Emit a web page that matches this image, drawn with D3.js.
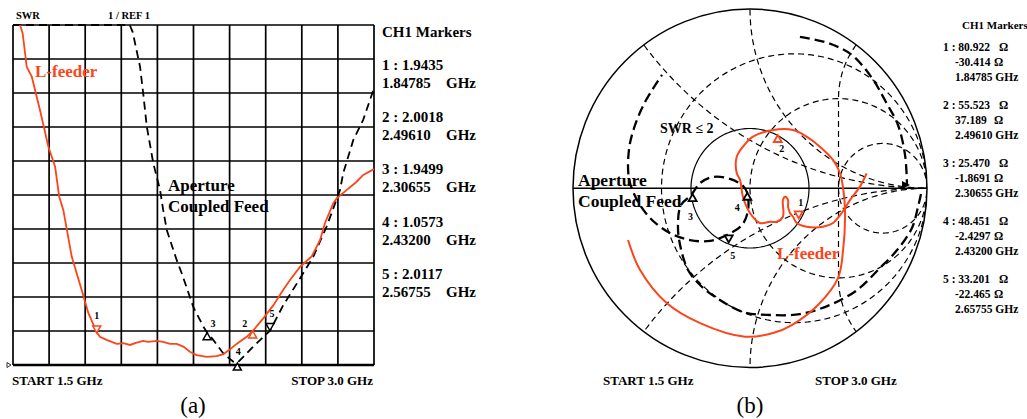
<!DOCTYPE html>
<html><head><meta charset="utf-8">
<script src="https://cdn.jsdelivr.net/npm/d3@7"></script>
<style>
body{margin:0;background:#fff}
svg{display:block}
text{font-family:"Liberation Serif","Times New Roman",serif;font-weight:bold}
text.caption{font-weight:normal}
</style></head><body>
<svg id="c" width="1027" height="419"></svg>
<script>
// ---------- (a) SWR vs frequency ----------
const freqGrid = [1.5,1.65,1.8,1.95,2.1,2.25,2.4,2.55,2.7,2.85,3.0];
const swrGrid = [1,2,3,4,5,6,7,8,9,10,11];

const lfeederFreq = [1.529,1.540,1.557,1.578,1.612,1.647,1.675,1.692,1.709,1.744,1.785,1.813,1.848,1.861,1.889,1.931,1.958,1.986,2.014,2.041,2.062,2.097,2.124,2.152,2.180,2.208,2.235,2.263,2.305,2.346,2.374,2.402,2.429,2.471,2.496,2.540,2.582,2.623,2.651,2.693,2.741,2.776,2.796,2.831,2.845,2.887,2.928,2.955,3.000];
const lfeederSWR  = [11.0,10.76,9.77,9.48,8.50,7.42,6.83,5.95,5.56,4.19,3.21,2.53,1.96,1.83,1.74,1.62,1.64,1.59,1.66,1.71,1.68,1.71,1.68,1.62,1.62,1.54,1.39,1.29,1.24,1.26,1.32,1.46,1.62,1.83,2.00,2.37,2.76,3.21,3.50,3.89,4.19,4.68,5.17,5.76,5.90,6.15,6.39,6.59,6.76];

const apertureFreq = [1.500,1.985,1.997,2.028,2.041,2.056,2.083,2.111,2.124,2.139,2.180,2.201,2.249,2.291,2.307,2.332,2.374,2.415,2.432,2.457,2.498,2.568,2.623,2.693,2.748,2.803,2.859,2.872,2.914,2.955,3.000];
const apertureSWR  = [11,11,10.80,9.77,8.99,8.01,6.93,6.15,5.56,4.97,4.09,3.70,2.71,2.13,1.95,1.74,1.34,1.10,1.06,1.24,1.54,2.01,2.76,3.55,4.19,5.07,6.15,6.64,7.62,8.21,9.14];

// CH1 markers of the SWR trace
const swrMarkerId    = [1,2,3,4,5];
const swrMarkerValue = [1.9435,2.0018,1.9499,1.0573,2.0117];
const swrMarkerFreq  = [1.84785,2.49610,2.30655,2.43200,2.56755];
const swrMarkerTrace = ["L","L","A","A","A"];
const swrMarkerShape = ["down","up","up","up","down"];

// ---------- (b) Smith chart, reflection coefficient (re, im) ----------
const lfeederGamma = [[0.659,0.083],[0.621,0.009],[0.565,-0.066],[0.518,-0.138],[0.469,-0.194],[0.412,-0.215],[0.320,-0.215],[0.264,-0.194],[0.243,-0.159],[0.226,-0.138],[0.215,-0.103],[0.215,-0.066],[0.198,-0.047],[0.186,-0.066],[0.186,-0.159],[0.151,-0.187],[0.113,-0.187],[0.056,-0.194],[0.0,-0.138],[-0.040,-0.047],[-0.056,0.046],[-0.075,0.085],[-0.075,0.176],[-0.040,0.232],[0.017,0.288],[0.130,0.325],[0.243,0.325],[0.320,0.288],[0.395,0.232],[0.469,0.158],[0.508,0.085],[0.525,0.009],[0.537,-0.131],[0.525,-0.354],[0.497,-0.501],[0.384,-0.651],[0.236,-0.763],[0.130,-0.808],[-0.028,-0.828],[-0.282,-0.752],[-0.471,-0.640],[-0.621,-0.456],[-0.689,-0.289]];
const apertureGamma = [[0.966,-0.032],[0.949,-0.105],[0.915,-0.222],[0.831,-0.345],[0.734,-0.445],[0.605,-0.568],[0.452,-0.651],[0.282,-0.702],[0.113,-0.707],[-0.040,-0.690],[-0.188,-0.612],[-0.282,-0.540],[-0.350,-0.456],[-0.395,-0.317],[-0.407,-0.205],[-0.390,-0.093],[-0.333,-0.039],[-0.282,0.029],[-0.209,0.063],[-0.113,0.052],[-0.040,0.013],[-0.016,-0.025],[-0.011,-0.122],[-0.045,-0.205],[-0.130,-0.261],[-0.226,-0.294],[-0.339,-0.289],[-0.452,-0.250],[-0.565,-0.166],[-0.644,-0.054],[-0.684,0.057],[-0.684,0.213],[-0.655,0.336],[-0.593,0.481],[-0.497,0.632],null,[0.282,0.844],[0.441,0.810],[0.576,0.743],[0.689,0.615],[0.768,0.481],[0.836,0.353],[0.876,0.185],[0.887,0.018]];

const smithMarkerId    = [1,2,3,4,5];
const smithMarkerR     = [80.922,55.523,25.470,48.451,33.201];
const smithMarkerX     = [-30.414,37.189,-1.8691,-2.4297,-22.465];
const smithMarkerFreq  = ["1.84785","2.49610","2.30655","2.43200","2.65755"];
const smithMarkerTrace = ["L","L","A","A","A"];
const smithMarkerShape = ["down","up","up","up","down"];
const Z0 = 50;

const resistanceCircles = [1/3, 1, 3];
const reactanceArcs = [0.5, 1, -0.5, -1];
const reactanceStub = 2;
const swrCircle = 2;

// ---------- drawing ----------
const RED = "#fb451a";
const svg = d3.select("#c");

function tri(x, y, dir, w = 8, h = 7) {
  return dir === "down"
    ? `M${x},${y}L${x - w / 2},${y - h}L${x + w / 2},${y - h}Z`
    : `M${x},${y}L${x - w / 2},${y + h}L${x + w / 2},${y + h}Z`;
}

// panel (a)
const xF = d3.scaleLinear().domain([1.5, 3.0]).range([13, 374]);
const yS = d3.scaleLinear().domain([1, 11]).range([365, 25]);
const pa = svg.append("g");

pa.selectAll(null).data(freqGrid).join("line")
  .attr("x1", d => xF(d)).attr("x2", d => xF(d))
  .attr("y1", yS(1)).attr("y2", yS(11))
  .attr("stroke", "#000").attr("stroke-width", 1.7);
pa.selectAll(null).data(swrGrid).join("line")
  .attr("x1", xF(1.5)).attr("x2", xF(3.0))
  .attr("y1", d => yS(d)).attr("y2", d => yS(d))
  .attr("stroke", "#000").attr("stroke-width", d => d === 1 ? 2.3 : 1.7);

// reference-level pointer
pa.append("path").attr("d", `M${xF(1.5) - 6},${yS(1) - 2.5}L${xF(1.5) - 2},${yS(1)}L${xF(1.5) - 6},${yS(1) + 2.5}Z`)
  .attr("fill", "none").attr("stroke", "#000").attr("stroke-width", 0.8);

const lineA = d3.line().x(d => xF(d[0])).y(d => yS(d[1]));
pa.append("path").datum(d3.zip(apertureFreq, apertureSWR)).attr("d", lineA)
  .attr("fill", "none").attr("stroke", "#000").attr("stroke-width", 1.8).attr("stroke-dasharray", "8,5");
pa.append("path").datum(d3.zip(lfeederFreq, lfeederSWR)).attr("d", lineA)
  .attr("fill", "none").attr("stroke", RED).attr("stroke-width", 1.8);

const swrLabelOffset = [[0, -14], [-8, -4], [6, -6], [1, -8], [2, -14]];
swrMarkerId.forEach((id, i) => {
  const x = xF(swrMarkerFreq[i]), y = yS(swrMarkerValue[i]);
  const col = swrMarkerTrace[i] === "L" ? RED : "#000";
  pa.append("path").attr("d", tri(x, y, swrMarkerShape[i]))
    .attr("fill", "#fff").attr("stroke", col).attr("stroke-width", 1.5);
  pa.append("text").attr("x", x + swrLabelOffset[i][0]).attr("y", y + swrLabelOffset[i][1])
    .attr("text-anchor", "middle").attr("font-size", 10).text(id);
});

pa.append("text").attr("x", 16).attr("y", 19).attr("font-size", 10.5).text("SWR");
pa.append("text").attr("x", 108).attr("y", 19).attr("font-size", 10.5).text("1 / REF 1");
pa.append("text").attr("x", 35).attr("y", 77).attr("font-size", 17).attr("fill", RED).text("L-feeder");
pa.append("text").attr("x", 168).attr("y", 191).attr("font-size", 17).text("Aperture");
pa.append("text").attr("x", 168).attr("y", 212).attr("font-size", 17).text("Coupled Feed");
pa.append("text").attr("x", 12).attr("y", 385).attr("font-size", 13).text("START 1.5 GHz");
pa.append("text").attr("x", 373).attr("y", 385).attr("font-size", 13).attr("text-anchor", "end").text("STOP 3.0 GHz");

// marker table (a)
pa.append("text").attr("x", 382).attr("y", 37).attr("font-size", 15).text("CH1 Markers");
swrMarkerId.forEach((id, i) => {
  const y0 = 70 + i * 52.2;
  pa.append("text").attr("x", 382).attr("y", y0).attr("font-size", 15).text(`${id} : ${swrMarkerValue[i].toFixed(4)}`);
  pa.append("text").attr("x", 382).attr("y", y0 + 18).attr("font-size", 15).text(swrMarkerFreq[i].toFixed(5));
  pa.append("text").attr("x", 446).attr("y", y0 + 18).attr("font-size", 15).text("GHz");
});

// panel (b) Smith chart
const gx = d3.scaleLinear().domain([-1, 1]).range([573, 927]);
const gy = d3.scaleLinear().domain([-1, 1]).range([367.5, 9]);
const pb = svg.append("g");
const defs = svg.append("defs");
defs.append("clipPath").attr("id", "unit").append("ellipse")
  .attr("cx", gx(0)).attr("cy", gy(0)).attr("rx", gx(1) - gx(0)).attr("ry", gy(-1) - gy(0));

function arcPts(cx, cy, r, a0 = 0, a1 = 2 * Math.PI, n = 240) {
  return d3.range(n + 1).map(i => {
    const a = a0 + (a1 - a0) * i / n;
    return [cx + r * Math.cos(a), cy + r * Math.sin(a)];
  });
}
const gl = d3.line().defined(d => d != null).x(d => gx(d[0])).y(d => gy(d[1]));
const grid = pb.append("g").attr("clip-path", "url(#unit)")
  .attr("fill", "none").attr("stroke", "#000").attr("stroke-width", 1.2).attr("stroke-dasharray", "6,4");

resistanceCircles.forEach(r => {
  grid.append("path").attr("d", gl(arcPts(r / (1 + r), 0, 1 / (1 + r))));
});
reactanceArcs.forEach(x => {
  grid.append("path").attr("d", gl(arcPts(1, 1 / x, Math.abs(1 / x), 0, 2 * Math.PI, 720)));
});
{
  const k = 1 / reactanceStub;
  const a = Math.atan2(0.8 - k, 0.6 - 1);
  const pts = arcPts(1, k, k, a, Math.PI, 40).concat(arcPts(1, -k, k, Math.PI, 2 * Math.PI - a, 40));
  grid.append("path").attr("d", gl(pts));
}

// outer boundary, real axis and SWR = 2 circle
pb.append("ellipse").attr("cx", gx(0)).attr("cy", gy(0)).attr("rx", gx(1) - gx(0)).attr("ry", gy(-1) - gy(0))
  .attr("fill", "none").attr("stroke", "#000").attr("stroke-width", 1.5);
pb.append("line").attr("x1", gx(-1)).attr("x2", gx(1)).attr("y1", gy(0)).attr("y2", gy(0))
  .attr("stroke", "#000").attr("stroke-width", 1.5);
const g2 = (swrCircle - 1) / (swrCircle + 1);
pb.append("path").attr("d", gl(arcPts(0, 0, g2))).attr("fill", "none").attr("stroke", "#000").attr("stroke-width", 1.2);

pb.append("path").datum(apertureGamma).attr("d", gl.curve(d3.curveCatmullRom))
  .attr("fill", "none").attr("stroke", "#000").attr("stroke-width", 2.3).attr("stroke-dasharray", "10,5");
pb.append("path").datum(lfeederGamma).attr("d", gl.curve(d3.curveCatmullRom))
  .attr("fill", "none").attr("stroke", RED).attr("stroke-width", 2);

// trace end pointer
{
  const e = apertureGamma[apertureGamma.length - 1];
  const x = gx(e[0]), y = gy(e[1]);
  pb.append("path").attr("d", `M${x - 5},${y - 4}L${x + 3},${y}L${x - 5},${y + 4}Z`).attr("fill", "#000");
}

const smLabelOffset = [[2, -12], [4, 17], [-2, 26], [-10, 18], [4, 17]];
smithMarkerId.forEach((id, i) => {
  const zr = smithMarkerR[i] / Z0, zi = smithMarkerX[i] / Z0;
  const den = (zr + 1) * (zr + 1) + zi * zi;
  const gr = (zr * zr + zi * zi - 1) / den, gi = 2 * zi / den;
  const x = gx(gr), y = gy(gi);
  const col = smithMarkerTrace[i] === "L" ? RED : "#000";
  pb.append("path").attr("d", tri(x, y, smithMarkerShape[i]))
    .attr("fill", "#fff").attr("stroke", col).attr("stroke-width", 1.8);
  pb.append("text").attr("x", x + smLabelOffset[i][0]).attr("y", y + smLabelOffset[i][1])
    .attr("text-anchor", "middle").attr("font-size", 10).text(id);
});

pb.append("text").attr("x", 660).attr("y", 133).attr("font-size", 14).text("SWR \u2264 2");
pb.append("text").attr("x", 578).attr("y", 186).attr("font-size", 17.5).text("Aperture");
pb.append("text").attr("x", 578).attr("y", 207).attr("font-size", 17.5).text("Coupled Feed");
pb.append("text").attr("x", 777).attr("y", 259).attr("font-size", 17).attr("fill", RED).text("L-feeder");
pb.append("text").attr("x", 603).attr("y", 385).attr("font-size", 13).text("START 1.5 GHz");
pb.append("text").attr("x", 815).attr("y", 385).attr("font-size", 13).text("STOP 3.0 GHz");

// marker table (b)
pb.append("text").attr("x", 962).attr("y", 29).attr("font-size", 11).text("CH1 Markers");
smithMarkerId.forEach((id, i) => {
  const y0 = 51 + i * 58;
  pb.append("text").attr("x", 943).attr("y", y0).attr("font-size", 11.5).text(`${id} : ${smithMarkerR[i].toFixed(3)}`);
  pb.append("text").attr("x", 999).attr("y", y0).attr("font-size", 11.5).text("\u03A9");
  pb.append("text").attr("x", 955).attr("y", y0 + 15).attr("font-size", 11.5).text(String(smithMarkerX[i]));
  pb.append("text").attr("x", 994).attr("y", y0 + 15).attr("font-size", 11.5).text("\u03A9");
  pb.append("text").attr("x", 955).attr("y", y0 + 30).attr("font-size", 11.5).text(`${smithMarkerFreq[i]} GHz`);
});

// panel captions
svg.append("text").attr("class", "caption").attr("x", 193).attr("y", 413).attr("text-anchor", "middle")
  .attr("font-size", 23).text("(a)");
svg.append("text").attr("class", "caption").attr("x", 750).attr("y", 413).attr("text-anchor", "middle")
  .attr("font-size", 23).text("(b)");
</script>
</body></html>
